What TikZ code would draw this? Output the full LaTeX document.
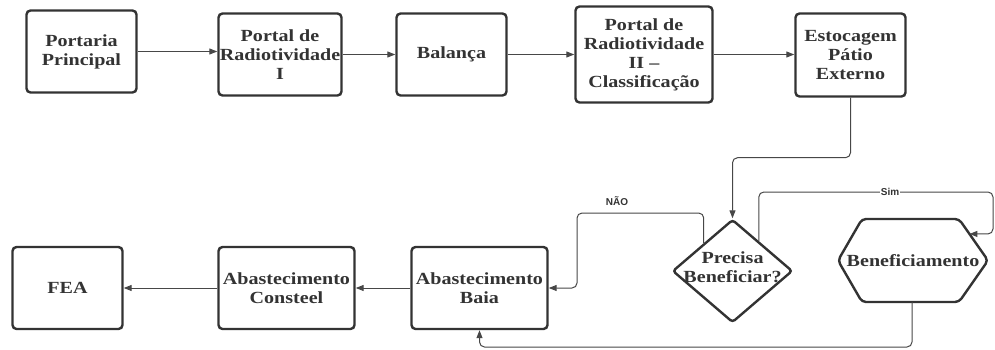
\documentclass[tikz,border=0pt]{standalone}
\usepackage{fontspec}
\setmainfont{Liberation Serif}[FakeStretch=1.18]
\setsansfont{Liberation Sans}
\usetikzlibrary{arrows.meta,shapes.geometric,calc}
\definecolor{edgecol}{HTML}{333333}
\definecolor{linkcol}{HTML}{474747}
\definecolor{inkcol}{HTML}{333333}
\tikzset{
  x=1pt, y=-1pt,
  boxfont/.style={font=\bfseries\fontsize{17}{19}\selectfont, text=inkcol, align=center},
  stepbox/.style={boxfont, draw=edgecol, line width=2.4pt, rounded corners=4pt,
    fill=white, inner sep=0pt, minimum height=82pt},
  conn/.style={draw=linkcol, line width=1pt, rounded corners=5pt,
    -{Triangle[length=8pt,width=6pt]}},
  tag/.style={font=\sffamily\bfseries\fontsize{10}{12}\selectfont, text=inkcol, inner sep=1pt}
}
\begin{document}
\begin{tikzpicture}
\useasboundingbox (0,0) rectangle (995,349);

% upper row
\node[stepbox, minimum width=110pt] (pp)  at (81.5,51.5) {Portaria\\Principal};
\node[stepbox, minimum width=123pt] (p1)  at (280,54.5)  {Portal de\\Radiotividade\\I};
\node[stepbox, minimum width=110pt] (bal) at (451.5,54.5) {Balança};
\node[stepbox, minimum width=137pt, minimum height=96pt] (p2) at (644,54.5)
  {Portal de\\Radiotividade\\II –\\Classificação};
\node[stepbox, minimum width=110pt, minimum height=83pt] (est) at (850.5,55)
  {Estocagem\\Pátio\\Externo};

% lower row
\node[stepbox, minimum width=110pt] (fea)  at (67.5,288)  {FEA};
\node[stepbox, minimum width=136pt] (con)  at (286.5,288) {Abastecimento\\Consteel};
\node[stepbox, minimum width=136pt] (baia) at (479.5,288) {Abastecimento\\Baia};

% decision
\node[diamond, draw=edgecol, line width=2.4pt, rounded corners=3pt, fill=white,
  minimum width=120pt, minimum height=103pt, inner sep=0pt] (dec) at (732.5,271) {};
\node[boxfont] (dectxt) at (732.5,267) {Precisa\\Beneficiar?};

% processing hexagon
\coordinate (h1) at (838,260.5);
\coordinate (h2) at (862,219);
\coordinate (h3) at (959,219);
\coordinate (h4) at (988,260.5);
\coordinate (h5) at (959,302);
\coordinate (h6) at (862,302);
\draw[draw=edgecol, line width=2.4pt, rounded corners=4pt, fill=white]
  (h1) -- (h2) -- (h3) -- (h4) -- (h5) -- (h6) -- cycle;
\node[boxfont] (hex) at (913,260.5) {Beneficiamento};
\coordinate (hexin) at ($(h3)!0.36!(h4)$);
\coordinate (hexout) at (912,302);

% flow of the upper row
\draw[conn] (pp.east) -- (pp.east -| p1.west);
\draw[conn] (p1.east) -- (bal.west);
\draw[conn] (bal.east) -- (p2.west);
\draw[conn] (p2.east) -- (p2.east -| est.west);

% down to the decision
\draw[conn] (est.south) -- ++(0,60) -| (dec.north);

% "no" branch
\coordinate (no0) at ($(dec.north)!0.47!(dec.west)$);
\draw[conn] (no0) |- (577,213) |- (baia.east);
\node[tag] (notag) at (617,201) {NÃO};

% "yes" branch
\coordinate (yes0) at ($(dec.north)!0.43!(dec.east)$);
\draw[conn] (yes0) |- (993,192) |- (hexin);
\node[tag, fill=white] (yestag) at (890,192) {Sim};

% back from processing
\draw[conn] (hexout) -- ++(0,45) -| (baia.south);

% flow of the lower row
\draw[conn] (baia.west) -- (con.east);
\draw[conn] (con.west) -- (fea.east);
\end{tikzpicture}
\end{document}
